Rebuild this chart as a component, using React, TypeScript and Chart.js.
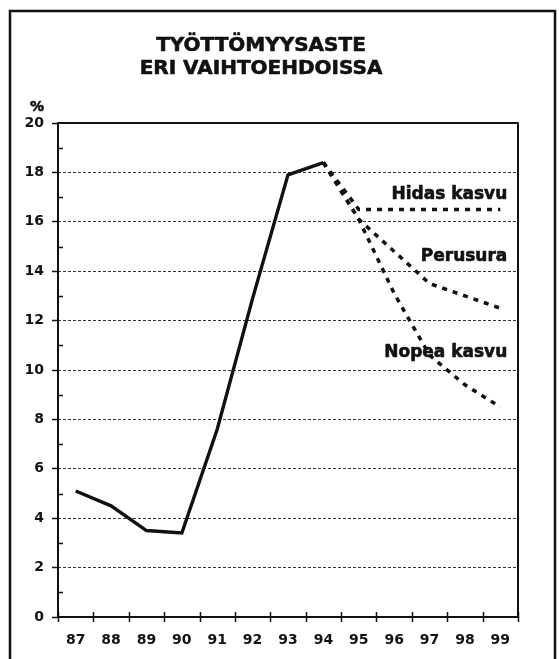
import React, { useEffect, useRef } from "react";
import { Chart, registerables } from "chart.js";

Chart.register(...registerables);

const years = ["87", "88", "89", "90", "91", "92", "93", "94", "95", "96", "97", "98", "99"];
const actual = [5.1, 4.5, 3.5, 3.4, 7.6, 12.9, 17.9, 18.4, null, null, null, null, null];
const hidasKasvu = [null, null, null, null, null, null, null, 18.4, 16.5, 16.5, 16.5, 16.5, 16.5];
const perusura = [null, null, null, null, null, null, null, 18.4, 16.1, 14.8, 13.5, 13.0, 12.5];
const nopeaKasvu = [null, null, null, null, null, null, null, 18.4, 16.1, 13.1, 10.6, 9.4, 8.5];
const titleLines = ["TYÖTTÖMYYSASTE", "ERI VAIHTOEHDOISSA"];
const seriesLabels = [
  { text: "Hidas kasvu", value: 17.1 },
  { text: "Perusura", value: 14.6 },
  { text: "Nopea kasvu", value: 10.7 },
];

const FONT = "'DejaVu Sans', sans-serif";

function heavyText(ctx: CanvasRenderingContext2D, text: string, x: number, y: number) {
  ctx.fillText(text, x, y);
  ctx.strokeText(text, x, y);
}

const decorPlugin = {
  id: "decor",
  afterDraw(chart: any) {
    const ctx = chart.ctx as CanvasRenderingContext2D;
    const area = chart.chartArea;
    const xs = chart.scales.x;
    const ys = chart.scales.y;
    ctx.save();
    // outer frame
    ctx.strokeStyle = "#111";
    ctx.lineWidth = 2.5;
    ctx.strokeRect(10, 11, 545, 720);
    // title
    ctx.fillStyle = "#111";
    ctx.lineWidth = 0.6;
    ctx.lineJoin = "round";
    ctx.font = `bold 20px ${FONT}`;
    ctx.textAlign = "center";
    ctx.textBaseline = "alphabetic";
    heavyText(ctx, titleLines[0], 261, 51);
    heavyText(ctx, titleLines[1], 261, 74);
    // % unit
    ctx.font = `bold 14px ${FONT}`;
    ctx.textAlign = "right";
    heavyText(ctx, "%", 44, 111);
    // plot border
    ctx.lineWidth = 2;
    ctx.strokeStyle = "#111";
    ctx.strokeRect(area.left, area.top, area.right - area.left, area.bottom - area.top);
    // minor y ticks (inside)
    ctx.lineWidth = 1.5;
    for (let v = 1; v < 20; v += 2) {
      const y = Math.round(ys.getPixelForValue(v)) + 0.5;
      ctx.beginPath();
      ctx.moveTo(area.left, y);
      ctx.lineTo(area.left + 5, y);
      ctx.stroke();
    }
    // x ticks at band boundaries
    const n = years.length;
    const w = (area.right - area.left) / n;
    for (let i = 0; i <= n; i++) {
      const x = Math.round(area.left + i * w) + 0.5;
      ctx.beginPath();
      ctx.moveTo(x, area.bottom - 5);
      ctx.lineTo(x, area.bottom + 5);
      ctx.stroke();
    }
    // series labels
    ctx.lineWidth = 0.6;
    ctx.font = `bold 17px ${FONT}`;
    ctx.textAlign = "right";
    ctx.textBaseline = "middle";
    const xr = xs.getPixelForValue(n - 1) + 7;
    for (const l of seriesLabels) {
      heavyText(ctx, l.text, xr, ys.getPixelForValue(l.value));
    }
    ctx.restore();
  },
};

export default function App() {
  const ref = useRef<HTMLCanvasElement>(null);
  useEffect(() => {
    if (!ref.current) return;
    Chart.defaults.font.family = FONT;
    const dotted = {
      borderColor: "#111",
      borderWidth: 3.5,
      borderDash: [5, 6],
      borderCapStyle: "butt" as const,
      pointRadius: 0,
      tension: 0,
      fill: false,
      spanGaps: false,
    };
    const chart = new Chart(ref.current, {
      type: "line",
      data: {
        labels: years,
        datasets: [
          { label: "Toteutunut", data: actual, borderColor: "#111", borderWidth: 3.4, pointRadius: 0, tension: 0, fill: false, borderJoinStyle: "miter" as const },
          { label: "Hidas kasvu", data: hidasKasvu, ...dotted },
          { label: "Perusura", data: perusura, ...dotted },
          { label: "Nopea kasvu", data: nopeaKasvu, ...dotted },
        ],
      },
      options: {
        animation: false,
        responsive: false,
        devicePixelRatio: 1,
        layout: { padding: { left: 0, right: 41, top: 123, bottom: 0 } },
        plugins: {
          legend: { display: false },
          title: { display: false },
          tooltip: { enabled: false },
        },
        scales: {
          x: {
            type: "category",
            offset: true,
            grid: { display: false, drawTicks: false },
            border: { display: false },
            ticks: {
              color: "#111",
              font: { size: 14, weight: "bold", family: FONT },
              padding: 15,
              maxRotation: 0,
              autoSkip: false,
            },
            afterFit(scale: any) {
              scale.height = 42;
            },
          },
          y: {
            min: 0,
            max: 20,
            ticks: {
              stepSize: 2,
              color: "#111",
              font: { size: 14, weight: "bold", family: FONT },
              padding: 8,
            },
            grid: {
              color: "#333",
              lineWidth: 1,
              drawTicks: true,
              tickLength: 6,
              tickColor: "#111",
              tickWidth: 1.5,
              tickBorderDash: [],
            },
            border: { display: false, dash: [3, 2] },
            afterFit(scale: any) {
              scale.width = 58;
            },
          },
        },
      },
      plugins: [decorPlugin],
    });
    return () => chart.destroy();
  }, []);
  return (
    <canvas
      ref={ref}
      width={559}
      height={659}
      style={{ position: "absolute", left: 0, top: 0, width: 559, height: 659 }}
    />
  );
}
